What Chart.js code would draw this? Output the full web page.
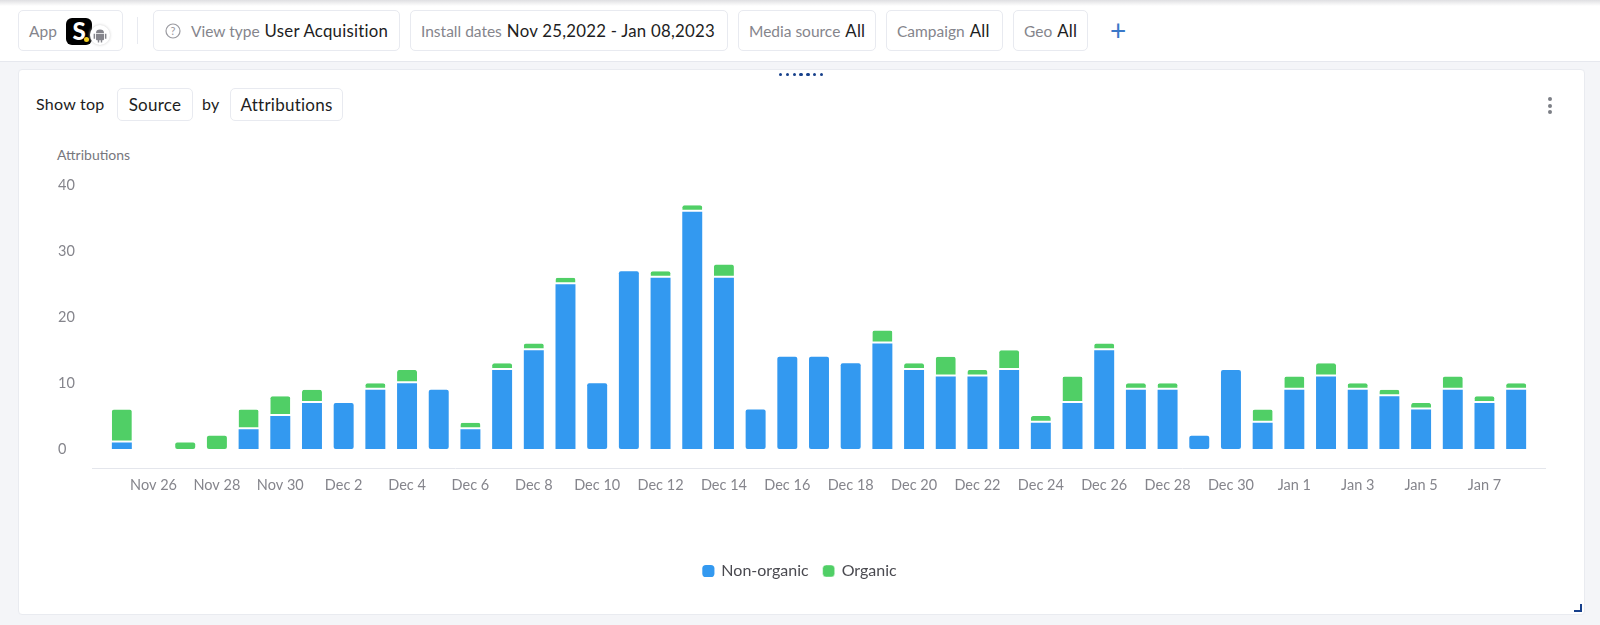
<!DOCTYPE html>
<html>
<head>
<meta charset="utf-8">
<title>Attributions</title>
<script src="https://cdn.jsdelivr.net/npm/chart.js@4"></script>
<style>
  html, body { margin: 0; padding: 0; width: 1600px; height: 625px; overflow: hidden; background: #f4f5f8; }
  body { position: relative; font-family: Lato, 'Open Sans', sans-serif; font-size: 16px; color: #1d1d22; }
  #header { position: absolute; left: 0; top: 0; width: 1600px; height: 62px; background: #fff; border-bottom: 1px solid #e6e8ee; box-sizing: border-box; }
  #header:before { content: ''; position: absolute; left: 0; top: 0; right: 0; height: 6px; background: linear-gradient(#dfdfe2, #fff); }
  .pill { position: absolute; box-sizing: border-box; background: #fff; border: 1px solid #e8eaf0; border-radius: 5px; display: flex; align-items: center; white-space: nowrap; }
  .pill.top { top: 10px; height: 41px; padding-left: 10px; }
  .pill b { font-weight: 400; font-size: 16.8px; color: #1d1d22; margin-left: 5px; letter-spacing: 0.25px; }
  .pill span { color: #85858c; font-size: 15.5px; }
  #divider { position: absolute; left: 137px; top: 17px; width: 1px; height: 27px; background: #e8eaf0; }
  #plus { position: absolute; left: 1110px; top: 14px; color: #3a78c8; font-size: 28px; line-height: 32px; font-weight: 400; }
  #logo { position: absolute; left: 47px; top: 7px; width: 26px; height: 27px; background: #000; border-radius: 6px; color: #fff; font-weight: 900; font-size: 24px; line-height: 26px; text-align: center; }
  #logo i { position: absolute; left: 18px; top: 19px; width: 5px; height: 5px; border-radius: 50%; background: #f5d020; }
  #badge { position: absolute; left: 71px; top: 14px; width: 20px; height: 20px; border-radius: 50%; background: #fff; box-shadow: 0 0 3px #ccc; }
  #card { position: absolute; left: 18px; top: 69px; width: 1567px; height: 546px; box-sizing: border-box; background: #fff; border: 1px solid #e9ebf0; border-radius: 4px; }
  .plain { position: absolute; white-space: nowrap; letter-spacing: 0.25px; }
  .pill.sel { top: 88px; height: 33px; justify-content: center; font-size: 17px; letter-spacing: 0.25px; }
  #yTitle { left: 57px; top: 146px; color: #77777d; font-size: 14px; letter-spacing: 0; }
  #drag { position: absolute; left: 779px; top: 73px; display: flex; gap: 3.4px; }
  #drag i { width: 3.4px; height: 3.4px; border-radius: 50%; background: #17408b; }
  #kebab { position: absolute; left: 1548px; top: 97px; display: flex; flex-direction: column; gap: 2.5px; }
  #kebab i { width: 4px; height: 4px; border-radius: 50%; background: #7c7f86; }
  #corner { position: absolute; left: 1574px; top: 604px; width: 6px; height: 6px; border-right: 2px solid #17408b; border-bottom: 2px solid #17408b; }
  #chart { position: absolute; left: 50px; top: 170px; }
</style>
</head>
<body>
<div id="header"></div>
<div class="pill top" style="left:18px;width:105px"><span>App</span>
  <div id="logo">S<i></i></div>
  <div id="badge"><svg width="20" height="20" viewBox="0 0 20 20"><path d="M6 8a4 3.4 0 0 1 8 0zM6 8.8h8v5.4a1 1 0 0 1-1 1h-.8V17.6h-1.4V15.2H9.2V17.6H7.8V15.2H7a1 1 0 0 1-1-1zM3.6 8.8h1.5v5H3.6zM14.9 8.8h1.5v5h-1.5z" fill="#85858c"/></svg></div>
</div>
<div id="divider"></div>
<div class="pill top" style="left:153px;width:247px"><svg width="16" height="16" viewBox="0 0 16 16" style="margin:0 10px 0 1px"><circle cx="8" cy="8" r="7" fill="none" stroke="#9a9aa0" stroke-width="1.2"/><text x="8" y="12" text-anchor="middle" font-size="11" fill="#9a9aa0" font-family="Lato">?</text></svg><span>View type</span><b>User Acquisition</b></div>
<div class="pill top" style="left:410px;width:318px"><span>Install dates</span><b>Nov 25,2022 - Jan 08,2023</b></div>
<div class="pill top" style="left:738px;width:138px"><span>Media source</span><b>All</b></div>
<div class="pill top" style="left:886px;width:117px"><span>Campaign</span><b>All</b></div>
<div class="pill top" style="left:1013px;width:75px"><span>Geo</span><b>All</b></div>
<div id="plus">+</div>

<div id="card"></div>
<div id="drag"><i></i><i></i><i></i><i></i><i></i><i></i><i></i></div>
<div class="plain" style="left:36px;top:94px">Show top</div>
<div class="pill sel" style="left:117px;width:76px">Source</div>
<div class="plain" style="left:202px;top:94px">by</div>
<div class="pill sel" style="left:230px;width:113px">Attributions</div>
<div id="kebab"><i></i><i></i><i></i></div>
<div class="plain" id="yTitle">Attributions</div>
<canvas id="chart" width="1516" height="419"></canvas>
<div id="corner"></div>

<script>
const FONT = "Lato, 'Open Sans', sans-serif";

const days = [
  'Nov 25', 'Nov 26', 'Nov 27', 'Nov 28', 'Nov 29', 'Nov 30',
  'Dec 1', 'Dec 2', 'Dec 3', 'Dec 4', 'Dec 5', 'Dec 6', 'Dec 7', 'Dec 8', 'Dec 9', 'Dec 10',
  'Dec 11', 'Dec 12', 'Dec 13', 'Dec 14', 'Dec 15', 'Dec 16', 'Dec 17', 'Dec 18', 'Dec 19', 'Dec 20',
  'Dec 21', 'Dec 22', 'Dec 23', 'Dec 24', 'Dec 25', 'Dec 26', 'Dec 27', 'Dec 28', 'Dec 29', 'Dec 30', 'Dec 31',
  'Jan 1', 'Jan 2', 'Jan 3', 'Jan 4', 'Jan 5', 'Jan 6', 'Jan 7', 'Jan 8'
];
const nonOrganic = [1, 0, 0, 0, 3, 5, 7, 7, 9, 10, 9, 3, 12, 15, 25, 10, 27, 26, 36, 26, 6, 14, 14, 13, 16, 12, 11, 11, 12, 4, 7, 15, 9, 9, 2, 12, 4, 9, 11, 9, 8, 6, 9, 7, 9];
const organic    = [5, 0, 1, 2, 3, 3, 2, 0, 1, 2, 0, 1, 1, 1, 1, 0, 0, 1, 1, 2, 0, 0, 0, 0, 2, 1, 3, 1, 3, 1, 4, 1, 1, 1, 0, 0, 2, 2, 2, 1, 1, 1, 2, 1, 1];
const yTicks = [0, 10, 20, 30, 40];

// axis line sits below the zero level and runs past both ends of the plot
const baseline = {
  id: 'baseline',
  afterLayout(chart) {
    // legend is centred a little right of the canvas middle
    chart.legend.left += 5;
    chart.legend.right += 5;
  },
  afterDraw(chart) {
    const { ctx, chartArea: a } = chart;
    ctx.save();
    ctx.strokeStyle = '#e4e6ec';
    ctx.lineWidth = 1;
    ctx.beginPath();
    ctx.moveTo(a.left - 14, a.bottom + 19.5);
    ctx.lineTo(a.right + 14, a.bottom + 19.5);
    ctx.stroke();
    ctx.restore();
  }
};

new Chart(document.getElementById('chart'), {
  type: 'bar',
  data: {
    labels: days,
    datasets: [
      {
        label: 'Non-organic',
        data: nonOrganic,
        backgroundColor: '#3399f0',
        borderRadius: 2,
        borderSkipped: false
      },
      {
        label: 'Organic',
        data: organic,
        backgroundColor: '#50cf66',
        borderColor: '#fff',
        borderWidth: c => ({ bottom: nonOrganic[c.dataIndex] ? 2 : 0 }),
        borderRadius: 2,
        borderSkipped: false
      }
    ]
  },
  options: {
    responsive: false,
    animation: false,
    categoryPercentage: 1,
    barPercentage: 0.63,
    layout: { padding: { left: 8, right: 34, top: 15.5 } },
    plugins: {
      tooltip: { enabled: false },
      legend: {
        position: 'bottom',
        labels: {
          usePointStyle: true,
          pointStyle: 'rectRounded',
          boxWidth: 10,
          boxHeight: 10,
          padding: 15,
          color: '#4a4a50',
          font: { family: FONT, size: 16 }
        }
      }
    },
    scales: {
      x: {
        stacked: true,
        grid: { display: false },
        border: { display: false },
        afterFit(s) { s.height = 99; },
        ticks: {
          autoSkip: false,
          maxRotation: 0,
          padding: 20,
          color: '#85858c',
          font: { family: FONT, size: 14.5 },
          callback(v, i) { return i % 2 ? days[i] : ''; }
        }
      },
      y: {
        stacked: true,
        min: 0,
        max: 40,
        grid: { display: false },
        border: { display: false },
        afterFit(s) { s.width = 48; },
        afterBuildTicks(s) { s.ticks = yTicks.map(value => ({ value })); },
        ticks: {
          crossAlign: 'far',
          color: '#85858c',
          font: { family: FONT, size: 14.5 }
        }
      }
    }
  },
  plugins: [baseline]
});
</script>
</body>
</html>
